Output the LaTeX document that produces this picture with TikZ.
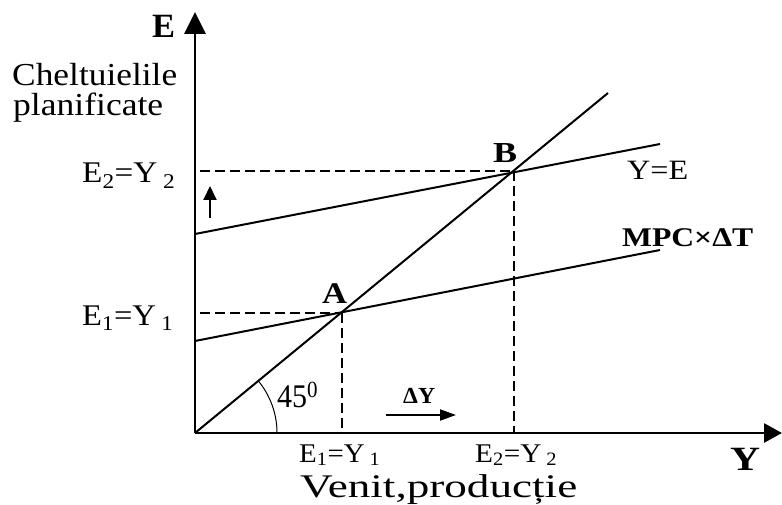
\documentclass[tikz,border=0pt]{standalone}
\usepackage{fontspec}
\setmainfont{Liberation Serif}
\usepackage{graphicx}
\usetikzlibrary{arrows.meta}
\newcommand\lbl[3]{\resizebox{#1pt}{\height}{\fontsize{#2pt}{#2pt}\selectfont #3}}
\begin{document}
\begin{tikzpicture}[x=1pt,y=-1pt,
  axis/.style={line width=2.8pt},
  curve/.style={line width=2pt},
  guide/.style={line width=1.6pt, dash pattern=on 10pt off 5pt},
  txt/.style={inner sep=0pt, anchor=base west},
  ]
\useasboundingbox (0,0) rectangle (782,505);
% coordinates
\coordinate (O) at (195,433);
\coordinate (Ytop) at (195,12);
\coordinate (Xend) at (782,433);
\coordinate (D) at (608,93);
\coordinate (U0) at (195,234);
\coordinate (U1) at (660,144);
\coordinate (L0) at (195,341);
\coordinate (L1) at (660,250);
\coordinate (A) at (342,313);
\coordinate (B) at (514,171);
\coordinate (Ah) at (200,313);
\coordinate (Bh) at (200,171);
\coordinate (Ax) at (342,433);
\coordinate (Bx) at (514,433);
\coordinate (up0) at (210,218);
\coordinate (up1) at (210,186);
\coordinate (d0) at (386,415);
\coordinate (d1) at (456,415);
% guides
\draw[guide] (Bh) -- (B);
\draw[guide] (Ah) -- (A);
\draw[guide] (A) -- (Ax);
\draw[guide] (B) -- (Bx);
% lines
\draw[curve] (O) -- (D);
\draw[curve] (U0) -- (U1);
\draw[curve] (L0) -- (L1);
\draw[line width=1pt] plot[domain=0:39.5, samples=40] ({195+82*cos(\x)},{433-82*sin(\x)});
% axes
\draw[axis,-{Triangle[length=22pt,width=21pt]}] (O) -- (Ytop);
\draw[axis,-{Triangle[length=18pt,width=19pt]}] (O) -- (Xend);
% small arrows
\draw[line width=2pt,-{Triangle[length=14pt,width=13pt]}] (up0) -- (up1);
\draw[line width=2pt,-{Triangle[length=16pt,width=11pt]}] (d0) -- (d1);
% labels
\node[txt] (Elab) at (152,38) {\lbl{23}{34}{\bfseries E}};
\node[txt] (chelt) at (12,86) {\lbl{165}{32}{Cheltuielile}};
\node[txt] (plan) at (13,116) {\lbl{150}{32}{planificate}};
\node[txt] (e2l) at (82,183) {\lbl{93}{30}{E\textsubscript{2}=Y\,\textsubscript{2}}};
\node[txt] (e1l) at (82,325) {\lbl{91}{30}{E\textsubscript{1}=Y\,\textsubscript{1}}};
\node[txt] (Alab) at (322,303) {\lbl{25}{30}{\bfseries A}};
\node[txt] (Blab) at (493,163) {\lbl{24}{29}{\bfseries B}};
\node[txt] (YE) at (627,180) {\lbl{61}{28}{Y=E}};
\node[txt] (mpc) at (622,247) {\lbl{131}{27}{\bfseries MPC×ΔT}};
\node[txt] (ang) at (277,407) {\lbl{41}{33}{45\textsuperscript{0}}};
\node[txt] (dY) at (403,403) {\lbl{32}{23}{\bfseries ΔY}};
\node[txt] (e1b) at (299,462) {\lbl{81}{27}{E\textsubscript{1}=Y\,\textsubscript{1}}};
\node[txt] (e2b) at (475,462) {\lbl{82}{27}{E\textsubscript{2}=Y\,\textsubscript{2}}};
\node[txt] (Ylab) at (730,470) {\lbl{30}{34}{\bfseries Y}};
\node[txt] (venit) at (300,497) {\lbl{277}{33}{Venit,producție}};
\end{tikzpicture}
\end{document}
